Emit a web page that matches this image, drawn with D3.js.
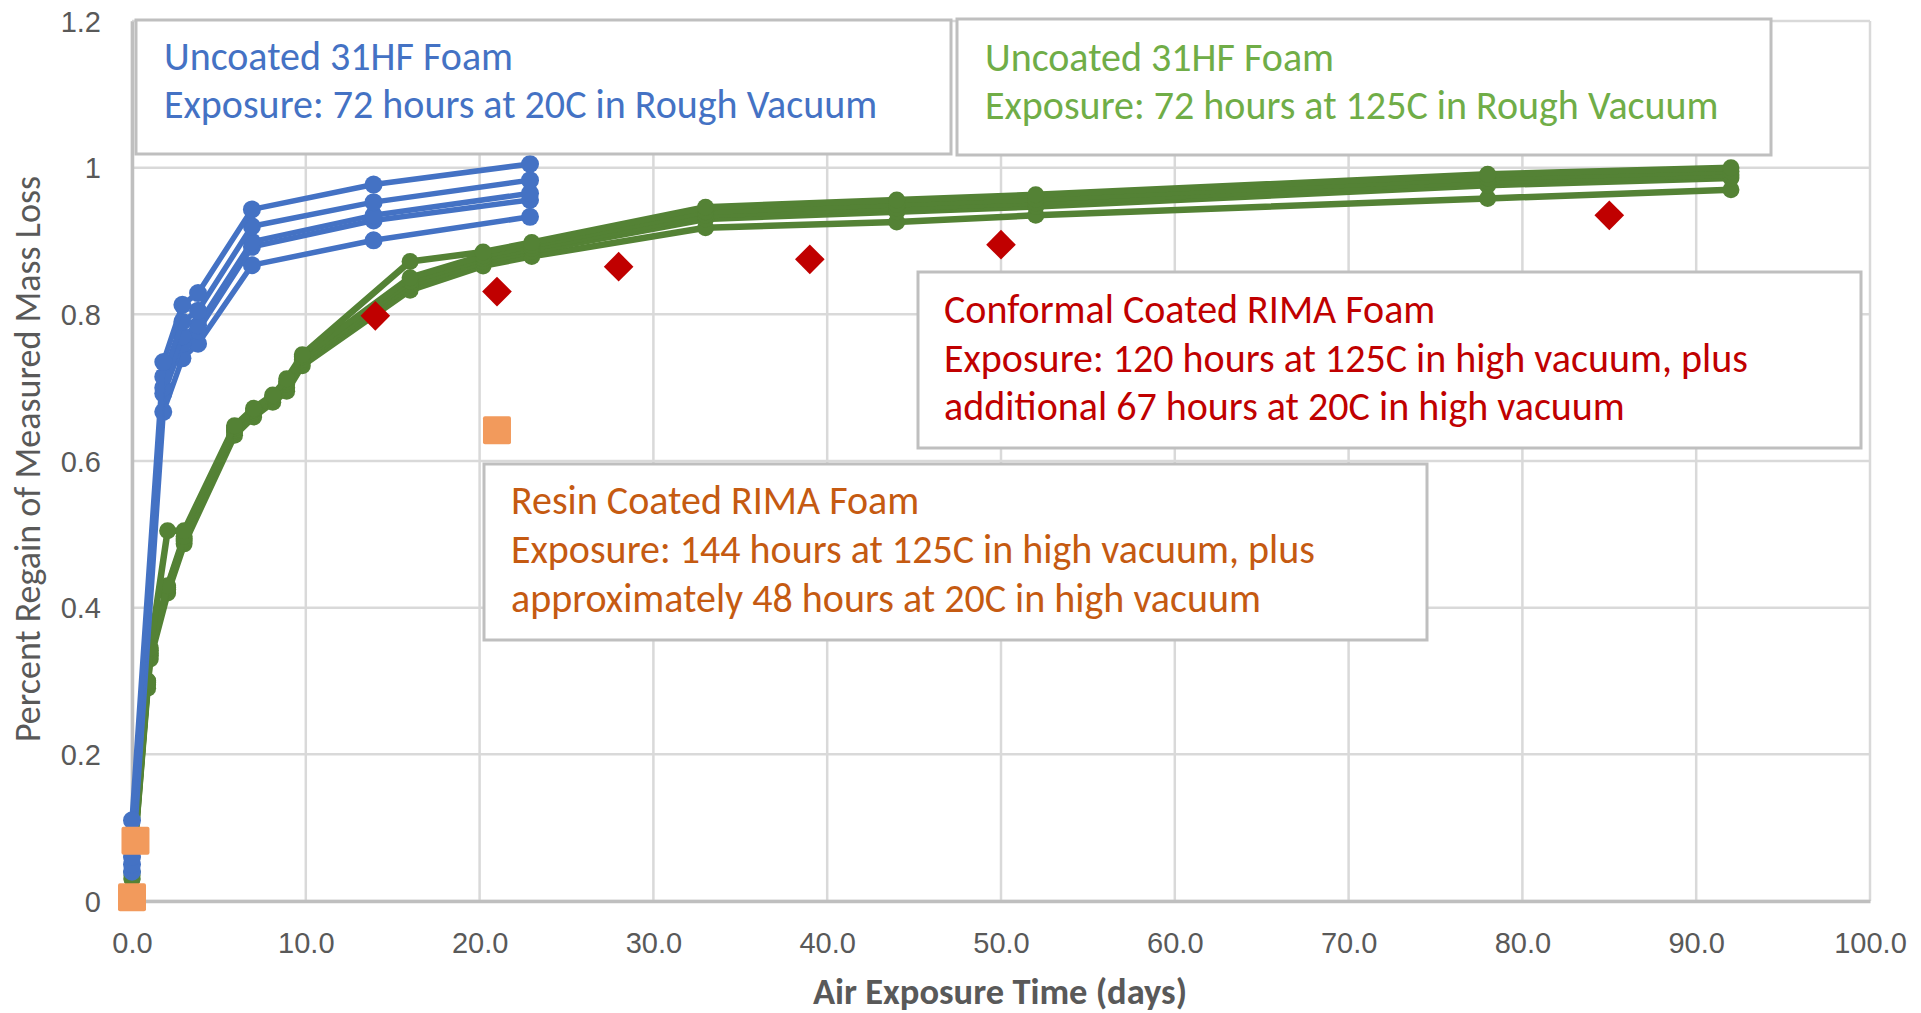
<!DOCTYPE html>
<html>
<head>
<meta charset="utf-8">
<script src="https://cdn.jsdelivr.net/npm/d3@7"></script>
<style>
  body { margin: 0; background: #fff; }
  svg { display: block; font-family: Carlito, Calibri, Lato, sans-serif; }
</style>
</head>
<body>
<script>
var width = 1921;
var height = 1013;

// ---- data ----
var xTicks = [0, 10, 20, 30, 40, 50, 60, 70, 80, 90, 100];
var yTicks = [0, 0.2, 0.4, 0.6, 0.8, 1, 1.2];

// uncoated 31HF foam, 20C rough vacuum (5 samples)
var blueDays = [0, 1.8, 2.9, 3.8, 6.9, 13.9, 22.9];
var blue1 = [0.11, 0.735, 0.813, 0.829, 0.943, 0.977, 1.005];
var blue2 = [0.08, 0.715, 0.790, 0.805, 0.920, 0.953, 0.983];
var blue3 = [0.06, 0.700, 0.770, 0.785, 0.899, 0.935, 0.965];
var blue4 = [0.05, 0.692, 0.760, 0.778, 0.892, 0.928, 0.956];
var blue5 = [0.04, 0.667, 0.740, 0.760, 0.867, 0.901, 0.933];

// uncoated 31HF foam, 125C rough vacuum (5 samples)
var greenDays = [0, 0.9, 1.05, 2.05, 3.0, 5.9, 7.0, 8.1, 8.9, 9.8, 16.0, 20.2, 23.0, 33.0, 44.0, 52.0, 78.0, 92.0];
var green1 = [0.040, 0.300, 0.345, 0.505, 0.505, 0.648, 0.672, 0.690, 0.712, 0.745, 0.872, 0.885, 0.898, 0.946, 0.956, 0.963, 0.991, 1.000];
var green2 = [0.040, 0.300, 0.342, 0.430, 0.497, 0.645, 0.670, 0.688, 0.708, 0.742, 0.850, 0.880, 0.894, 0.940, 0.950, 0.957, 0.986, 0.995];
var green3 = [0.035, 0.298, 0.338, 0.428, 0.494, 0.642, 0.667, 0.686, 0.705, 0.738, 0.845, 0.876, 0.890, 0.935, 0.945, 0.952, 0.981, 0.990];
var green4 = [0.030, 0.295, 0.335, 0.425, 0.491, 0.640, 0.664, 0.684, 0.700, 0.735, 0.840, 0.872, 0.886, 0.930, 0.940, 0.947, 0.976, 0.986];
var green5 = [0.030, 0.290, 0.330, 0.420, 0.487, 0.635, 0.660, 0.680, 0.695, 0.730, 0.833, 0.866, 0.879, 0.918, 0.926, 0.935, 0.958, 0.970];

// conformal coated RIMA foam
var redDays = [14.0, 21.0, 28.0, 39.0, 50.0, 85.0];
var redVals = [0.798, 0.831, 0.865, 0.875, 0.895, 0.935];

// resin coated RIMA foam
var orangeDays = [0, 0.2, 21.0];
var orangeVals = [0.005, 0.082, 0.642];

var notes = [
  { lines: ["Uncoated 31HF Foam", "Exposure: 72 hours at 20C in Rough Vacuum"], color: "#4472c4",
    box: [136, 20, 815, 134], tx: 164, ty: 70, lh: 48 },
  { lines: ["Uncoated 31HF Foam", "Exposure: 72 hours at 125C in Rough Vacuum"], color: "#70ad47",
    box: [957, 19, 814, 136], tx: 985, ty: 71, lh: 48 },
  { lines: ["Conformal Coated RIMA Foam", "Exposure: 120 hours at 125C in high vacuum, plus", "additional 67 hours at 20C in high vacuum"], color: "#c00000",
    box: [918, 272, 943, 176], tx: 944, ty: 323, lh: 48.5 },
  { lines: ["Resin Coated RIMA Foam", "Exposure: 144 hours at 125C in high vacuum, plus", "approximately 48 hours at 20C in high vacuum"], color: "#c55a11",
    box: [484, 464, 943, 176], tx: 511, ty: 514, lh: 49 }
];

// ---- chart ----
var svg = d3.select("body").append("svg")
  .attr("width", width)
  .attr("height", height);

var x = d3.scaleLinear().domain([0, 100]).range([132, 1870]);
var y = d3.scaleLinear().domain([0, 1.2]).range([901, 21]);

// gridlines
svg.append("g").selectAll("line").data(xTicks).enter().append("line")
  .attr("x1", function (d) { return x(d); })
  .attr("x2", function (d) { return x(d); })
  .attr("y1", y(0)).attr("y2", y(1.2))
  .attr("stroke", "#d9d9d9").attr("stroke-width", 2.5);

svg.append("g").selectAll("line").data(yTicks).enter().append("line")
  .attr("x1", x(0)).attr("x2", x(100))
  .attr("y1", function (d) { return y(d); })
  .attr("y2", function (d) { return y(d); })
  .attr("stroke", "#d9d9d9").attr("stroke-width", 2.5);

// axes
var xAxis = d3.axisBottom(x).tickValues(xTicks).tickSize(0).tickPadding(0)
  .tickFormat(d3.format(".1f"));
var yAxis = d3.axisLeft(y).tickValues(yTicks).tickSize(0).tickPadding(0)
  .tickFormat(function (d) { return String(+d.toFixed(1)); });

var gx = svg.append("g").attr("transform", "translate(0," + y(0) + ")").call(xAxis);
gx.select(".domain").attr("stroke", "#bfbfbf").attr("stroke-width", 3.5);
gx.selectAll("text").attr("y", 52).attr("dy", 0)
  .attr("font-size", 29).attr("fill", "#595959").style("font-family", null);

var gy = svg.append("g").attr("transform", "translate(" + x(0) + ",0)").call(yAxis);
gy.select(".domain").attr("stroke", "#bfbfbf").attr("stroke-width", 3.5);
gy.selectAll("text").attr("x", -31).attr("dy", "0.35em")
  .attr("font-size", 29).attr("fill", "#595959").style("font-family", null);

svg.append("text")
  .attr("transform", "translate(27,459) rotate(-90)")
  .attr("dy", "0.35em")
  .attr("text-anchor", "middle")
  .attr("font-size", 36)
  .attr("fill", "#595959")
  .text("Percent Regain of Measured Mass Loss");

svg.append("text")
  .attr("x", 1000).attr("y", 1004)
  .attr("text-anchor", "middle")
  .attr("font-size", 36.5)
  .attr("font-weight", "bold")
  .attr("fill", "#595959")
  .text("Air Exposure Time (days)");

// series
var line = d3.line()
  .x(function (d) { return x(d[0]); })
  .y(function (d) { return y(d[1]); });

function drawSeries(days, vals, color, lw, r) {
  var pts = d3.zip(days, vals);
  var g = svg.append("g");
  g.append("path")
    .attr("d", line(pts))
    .attr("fill", "none")
    .attr("stroke", color)
    .attr("stroke-width", lw)
    .attr("stroke-linejoin", "round")
    .attr("stroke-linecap", "round");
  g.selectAll("circle").data(pts).enter().append("circle")
    .attr("cx", function (d) { return x(d[0]); })
    .attr("cy", function (d) { return y(d[1]); })
    .attr("r", r)
    .attr("fill", color);
}

[green5, green4, green3, green2, green1].forEach(function (s) {
  drawSeries(greenDays, s, "#548235", 6.5, 8.5);
});
[blue5, blue4, blue3, blue2, blue1].forEach(function (s) {
  drawSeries(blueDays, s, "#4472c4", 5.5, 9);
});

svg.append("g").selectAll("path").data(d3.zip(redDays, redVals)).enter().append("path")
  .attr("d", d3.symbol().type(d3.symbolSquare).size(440))
  .attr("transform", function (d) { return "translate(" + x(d[0]) + "," + y(d[1]) + ") rotate(45)"; })
  .attr("fill", "#c00000");

svg.append("g").selectAll("rect").data(d3.zip(orangeDays, orangeVals)).enter().append("rect")
  .attr("x", function (d) { return x(d[0]) - 14; })
  .attr("y", function (d) { return y(d[1]) - 14; })
  .attr("width", 28).attr("height", 28)
  .attr("rx", 2)
  .attr("fill", "#f29a5c");

// annotation boxes
notes.forEach(function (n) {
  var g = svg.append("g");
  g.append("rect")
    .attr("x", n.box[0]).attr("y", n.box[1])
    .attr("width", n.box[2]).attr("height", n.box[3])
    .attr("fill", "#fff")
    .attr("stroke", "#bfbfbf")
    .attr("stroke-width", 3);
  g.selectAll("text").data(n.lines).enter().append("text")
    .attr("x", n.tx)
    .attr("y", function (d, i) { return n.ty + i * n.lh; })
    .attr("font-size", 40)
    .attr("fill", n.color)
    .text(function (d) { return d; });
});
</script>
</body>
</html>
